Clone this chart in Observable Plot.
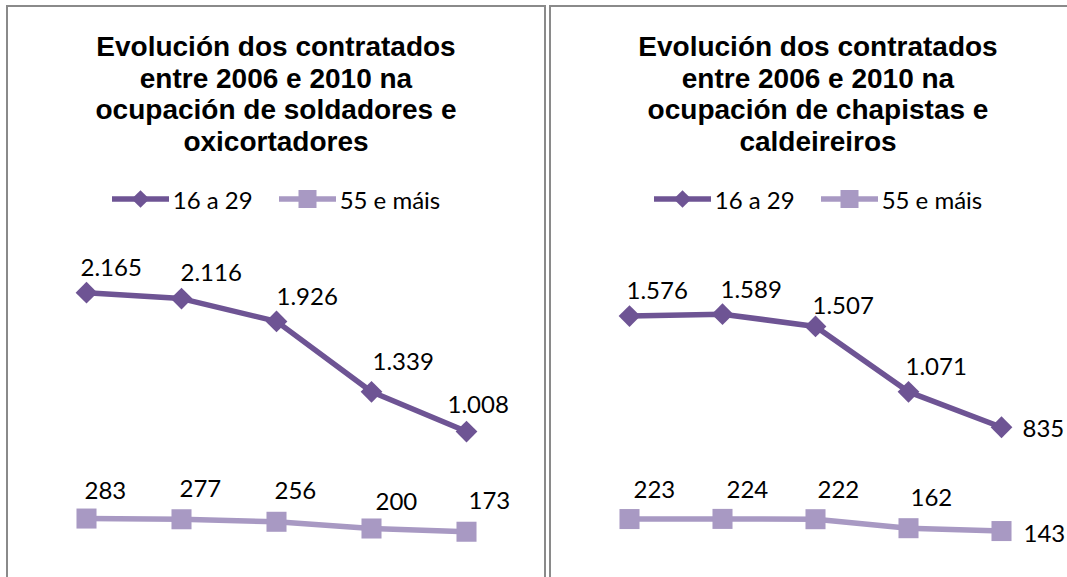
<!DOCTYPE html>
<html><head><meta charset="utf-8">
<script src="https://cdn.jsdelivr.net/npm/d3@7"></script>
<script src="https://cdn.jsdelivr.net/npm/@observablehq/plot@0.6"></script>
<style>
html,body{margin:0;padding:0;background:#fff;overflow:hidden;width:1067px;height:577px;}
#root{position:relative;width:1067px;height:577px;overflow:hidden;background:#fff;}
.frame{position:absolute;box-sizing:border-box;border:2px solid #8a8a8a;}
.title{position:absolute;text-align:center;font-family:"Liberation Sans",Arial,sans-serif;font-weight:bold;font-size:28px;line-height:31.7px;color:#000;white-space:nowrap;}
.legend{position:absolute;display:flex;justify-content:center;align-items:center;font-family:Lato,sans-serif;font-size:24px;height:26px;color:#000;}
.legend .item{display:flex;align-items:center;margin:0 13px;}
.legend svg{display:block;margin-right:4px;}
.chart{position:absolute;}
</style></head><body><div id="root"></div>
<script>
// ---- data ----
const years = ["2006", "2007", "2008", "2009", "2010"];
const seriesNames = ["16 a 29", "55 e máis"];
const titleSoldadores = ["Evolución dos contratados", "entre 2006 e 2010 na", "ocupación de soldadores e", "oxicortadores"];
const titleChapistas = ["Evolución dos contratados", "entre 2006 e 2010 na", "ocupación de chapistas e", "caldeireiros"];
const soldadores16 = [2165, 2116, 1926, 1339, 1008];
const soldadores55 = [283, 277, 256, 200, 173];
const chapistas16 = [1576, 1589, 1507, 1071, 835];
const chapistas55 = [223, 224, 222, 162, 143];

// ---- label placement (layout only) ----
const soldadores16Dx = [-6, -1, 0, 1, -19], soldadores16Dy = [-24, -25, -24, -30, -26];
const soldadores55Dx = [-2, -2, -2, 4, 2], soldadores55Dy = [-27, -30, -30, -26, -30];
const chapistas16Dx = [-3, -2, -3, -3, 21], chapistas16Dy = [-25, -24, -20, -25, 2];
const chapistas55Dx = [4, 4, 2, 2, 22], chapistas55Dy = [-29, -29, -29, -30, 3];

const colors = ["#6E5494", "#A899C3"];
const symbols = ["diamond2", "square"];
const fmt = d3.formatLocale({decimal: ",", thousands: ".", grouping: [3], currency: ["", "€"]}).format(",d");

const panels = [
  {left: 6, width: 540, yMax: 2500, mL: 31, mR: 31, title: titleSoldadores,
   series: [[soldadores16, soldadores16Dx, soldadores16Dy], [soldadores55, soldadores55Dx, soldadores55Dy]]},
  {left: 549, width: 538, yMax: 2000, mL: 31, mR: 38, title: titleChapistas,
   series: [[chapistas16, chapistas16Dx, chapistas16Dy], [chapistas55, chapistas55Dx, chapistas55Dy]]}
];

const root = document.getElementById("root");

function legendSwatch(i) {
  const w = 57, h = 26;
  const svg = d3.create("svg").attr("width", w).attr("height", h);
  svg.append("line").attr("x1", 0).attr("x2", w).attr("y1", h / 2).attr("y2", h / 2)
    .attr("stroke", colors[i]).attr("stroke-width", 5.5);
  if (i === 0) {
    svg.append("path").attr("d", d3.symbol(d3.symbolDiamond2, 200)()).attr("transform", `translate(${w / 2},${h / 2})`).attr("fill", colors[i]);
  } else {
    svg.append("rect").attr("x", w / 2 - 9).attr("y", h / 2 - 9).attr("width", 18).attr("height", 18).attr("fill", colors[i]);
  }
  return svg.node();
}

for (const p of panels) {
  const frame = document.createElement("div");
  frame.className = "frame";
  Object.assign(frame.style, {left: p.left + "px", top: "5px", width: p.width + "px", height: "620px"});
  root.appendChild(frame);

  const title = document.createElement("div");
  title.className = "title";
  Object.assign(title.style, {left: p.left + "px", top: "31px", width: p.width + "px"});
  title.innerHTML = p.title.join("<br>");
  root.appendChild(title);

  const legend = document.createElement("div");
  legend.className = "legend";
  Object.assign(legend.style, {left: p.left + "px", top: "186px", width: p.width + "px"});
  seriesNames.forEach((name, i) => {
    const item = document.createElement("div");
    item.className = "item";
    item.appendChild(legendSwatch(i));
    const t = document.createElement("span");
    t.textContent = name;
    item.appendChild(t);
    legend.appendChild(item);
  });
  root.appendChild(legend);

  const rows = [];
  p.series.forEach(([vals, dxs, dys], s) => {
    vals.forEach((v, k) => rows.push({year: years[k], value: v, series: seriesNames[s], s, dx: dxs[k], dy: dys[k]}));
  });

  const marks = [];
  [0, 1].forEach(s => {
    const d = rows.filter(r => r.s === s);
    marks.push(Plot.line(d, {x: "year", y: "value", stroke: colors[s], strokeWidth: 5.5, strokeLinejoin: "round"}));
    marks.push(Plot.dot(d, {x: "year", y: "value", symbol: () => symbols[s], fill: colors[s], stroke: "none", r: s === 0 ? 9.8 : 11.3}));
  });
  for (const r of rows) {
    marks.push(Plot.text([r], {x: "year", y: "value", text: d => fmt(d.value), textAnchor: "start", dx: r.dx, dy: r.dy, fill: "#000"}));
  }

  const chart = Plot.plot({
    width: p.width, height: 350,
    marginTop: 22, marginBottom: 28, marginLeft: p.mL, marginRight: p.mR,
    x: {type: "point", domain: years, padding: 0.5, axis: null},
    y: {domain: [0, p.yMax], axis: null},
    style: {fontFamily: "Lato, sans-serif", fontSize: "24px", background: "transparent", overflow: "visible"},
    marks
  });
  chart.classList.add("chart");
  Object.assign(chart.style, {left: p.left + "px", top: "230px"});
  root.appendChild(chart);
}
</script>
</body></html>
